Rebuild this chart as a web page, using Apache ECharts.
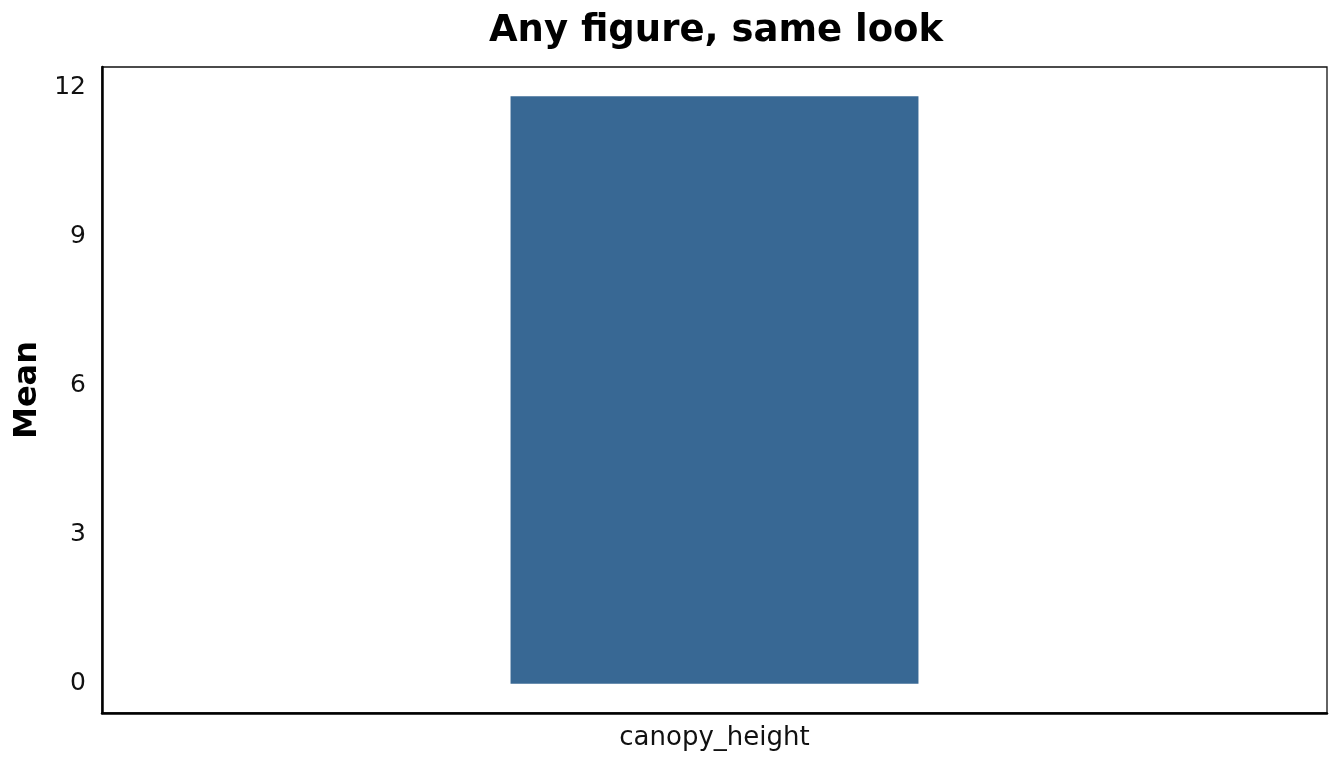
<!DOCTYPE html>
<html>
<head>
<meta charset="utf-8">
<script src="https://cdn.jsdelivr.net/npm/echarts@6/dist/echarts.min.js"></script>
<style>
html,body{margin:0;padding:0;background:#fff;}
#chart{width:1344px;height:768px;}
</style>
</head>
<body>
<div id="chart"></div>
<script>
const categories = ['canopy_height'];
const meanValues = [11.82];
const yTickValues = [0, 3, 6, 9, 12];
const titleText = 'Any figure, same look';
const yAxisName = 'Mean';

const dataMax = Math.max(...meanValues);
const pad = dataMax * 0.05;

const chart = echarts.init(document.getElementById('chart'), null, {renderer: 'canvas'});
chart.setOption({
  animation: false,
  backgroundColor: '#ffffff',
  textStyle: {fontFamily: 'DejaVu Sans'},
  title: {
    text: titleText,
    left: 711,
    textAlign: 'center',
    top: 8,
    textStyle: {fontFamily: 'DejaVu Sans', fontWeight: 'bold', fontSize: 37, color: '#000'}
  },
  grid: {
    left: 102, right: 17, top: 67, bottom: 55,
    outerBoundsMode: 'none',
    show: true, borderColor: '#111', borderWidth: 1.3, backgroundColor: 'transparent'
  },
  xAxis: {
    type: 'category',
    data: categories,
    axisLine: {show: true, onZero: false, lineStyle: {color: '#000', width: 2.5}},
    axisTick: {show: false},
    splitLine: {show: false},
    axisLabel: {margin: 12, fontSize: 26, color: '#111', fontFamily: 'DejaVu Sans'}
  },
  yAxis: {
    type: 'value',
    min: 0 - pad,
    max: dataMax + pad,
    name: yAxisName,
    nameLocation: 'middle',
    nameRotate: 90,
    nameGap: 58,
    nameTextStyle: {fontFamily: 'DejaVu Sans', fontWeight: 'bold', fontSize: 32, color: '#000'},
    axisLine: {show: true, lineStyle: {color: '#000', width: 2.5}},
    axisTick: {show: false},
    splitLine: {show: false},
    axisLabel: {
      customValues: yTickValues,
      margin: 16,
      fontSize: 25,
      color: '#111',
      fontFamily: 'DejaVu Sans'
    }
  },
  series: [{
    type: 'bar',
    data: meanValues,
    barWidth: '33.3%',
    itemStyle: {color: '#386894'}
  }]
});
</script>
</body>
</html>
